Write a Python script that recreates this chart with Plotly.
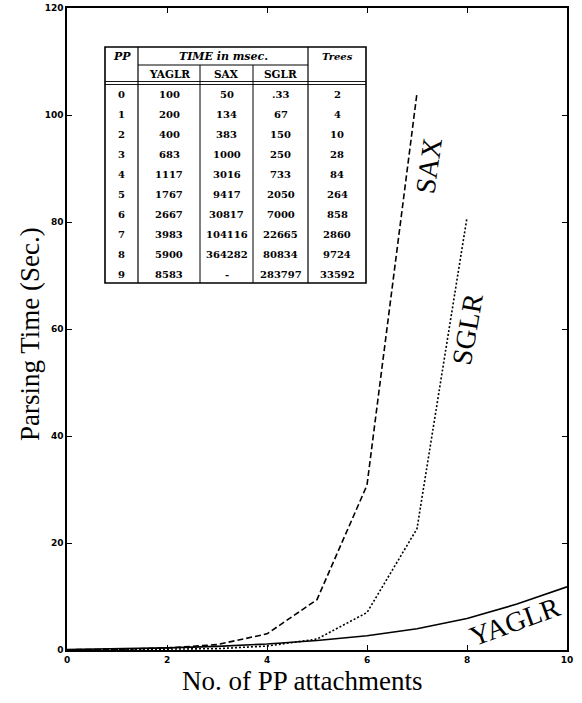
import plotly.graph_objects as go

pp = [0, 1, 2, 3, 4, 5, 6, 7, 8, 9, 10]
yaglr = [0.1, 0.2, 0.4, 0.683, 1.117, 1.767, 2.667, 3.983, 5.9, 8.583, 11.8]
sax_x = [0, 1, 2, 3, 4, 5, 6, 7]
sax = [0.05, 0.134, 0.383, 1.0, 3.016, 9.417, 30.817, 104.116]
sglr_x = [0, 1, 2, 3, 4, 5, 6, 7, 8]
sglr = [0.00033, 0.067, 0.15, 0.25, 0.733, 2.05, 7.0, 22.665, 80.834]

x_ticks = [0, 2, 4, 6, 8, 10]
y_ticks = [0, 20, 40, 60, 80, 100, 120]

# ---- table contents ----
tbl_pp = ["0", "1", "2", "3", "4", "5", "6", "7", "8", "9"]
tbl_yaglr = ["100", "200", "400", "683", "1117", "1767", "2667", "3983", "5900", "8583"]
tbl_sax = ["50", "134", "383", "1000", "3016", "9417", "30817", "104116", "364282", "-"]
tbl_sglr = [".33", "67", "150", "250", "733", "2050", "7000", "22665", "80834", "283797"]
tbl_trees = ["2", "4", "10", "28", "84", "264", "858", "2860", "9724", "33592"]

W, H = 582, 703
L, R, T, B = 67, 567, 8, 650


def px(x):
    return (x - L) / (R - L)


def py(y):
    return (B - y) / (B - T)


fig = go.Figure()
fig.add_trace(go.Scatter(x=pp, y=yaglr, mode="lines",
                         line=dict(color="black", width=1.6)))
fig.add_trace(go.Scatter(x=sax_x, y=sax, mode="lines",
                         line=dict(color="black", width=1.6, dash="6px,3px")))
fig.add_trace(go.Scatter(x=sglr_x, y=sglr, mode="lines",
                         line=dict(color="black", width=1.6, dash="2px,2px")))

serif = "Liberation Serif"
lab = dict(family=serif, size=28, color="black")
ann = []
ann.append(dict(x=7.24, y=90.5, text="SAX", textangle=-82, showarrow=False, font=lab))
ann.append(dict(x=8.0, y=60, text="SGLR", textangle=-80, showarrow=False, font=lab))
ann.append(dict(x=8.96, y=5.3, text="YAGLR", textangle=-20, showarrow=False, font=lab))

# axis titles placed as annotations for exact placement
titlefont = dict(family=serif, size=27, color="black")
ann.append(dict(xref="paper", yref="paper", x=px(302), y=py(681),
                text="No. of PP attachments", showarrow=False,
                xanchor="center", yanchor="middle", font=titlefont))
ann.append(dict(xref="paper", yref="paper", x=px(30), y=py(334),
                text="Parsing Time (Sec.)", showarrow=False, textangle=-90,
                xanchor="center", yanchor="middle", font=titlefont))

# ---- table drawn with shapes + annotations ----
cols = [105, 138, 200, 253, 308, 366]
top, mid, hdr = 47, 65, 83
rowh = 20
bottom = hdr + rowh * len(tbl_pp)
shapes = []


def line(x0, y0, x1, y1, w=1.0):
    shapes.append(dict(type="line", xref="paper", yref="paper",
                       x0=px(x0), y0=py(y0), x1=px(x1), y1=py(y1),
                       line=dict(color="black", width=w)))


shapes.append(dict(type="rect", xref="paper", yref="paper",
                   x0=px(cols[0]), y0=py(bottom), x1=px(cols[-1]), y1=py(top),
                   line=dict(color="black", width=1.6), fillcolor="white",
                   layer="above"))
line(cols[1], top, cols[1], bottom, 1.2)
line(cols[4], top, cols[4], bottom, 1.2)
line(cols[2], mid, cols[2], bottom, 1.0)
line(cols[3], mid, cols[3], bottom, 1.0)
line(cols[1], mid, cols[4], mid, 1.0)
line(cols[0], hdr - 1.5, cols[-1], hdr - 1.5, 0.9)
line(cols[0], hdr + 1.5, cols[-1], hdr + 1.5, 0.9)

tfont = dict(family="DejaVu Serif", size=10, color="black", weight="bold")


def tann(x, y, text, italic=False, size=10):
    ann.append(dict(xref="paper", yref="paper", x=px(x), y=py(y), text=text,
                    showarrow=False, xanchor="center", yanchor="middle",
                    font=dict(tfont, size=size,
                              style="italic" if italic else "normal")))


tann((cols[0] + cols[1]) / 2, (top + mid) / 2, "PP", True, 11)
tann((cols[1] + cols[4]) / 2, (top + mid) / 2, "TIME in msec.", True, 11)
tann((cols[4] + cols[5]) / 2, (top + mid) / 2, "Trees", True, 10)
for i, h in enumerate(["YAGLR", "SAX", "SGLR"]):
    tann((cols[i + 1] + cols[i + 2]) / 2, (mid + hdr) / 2, h, False, 10.5)
for r in range(len(tbl_pp)):
    yc = hdr + rowh * r + rowh / 2 + 1
    for c, colvals in enumerate([tbl_pp, tbl_yaglr, tbl_sax, tbl_sglr, tbl_trees]):
        tann((cols[c] + cols[c + 1]) / 2, yc, colvals[r])

tickfont = dict(family="DejaVu Sans", size=9, color="black", weight="bold")
fig.update_layout(
    width=W, height=H,
    margin=dict(l=L, r=W - R, t=T, b=H - B, pad=0),
    paper_bgcolor="white", plot_bgcolor="white",
    showlegend=False,
    annotations=ann,
    shapes=shapes,
    xaxis=dict(range=[0, 10], tickvals=x_ticks, ticks="inside", ticklen=5,
               tickcolor="black", showgrid=False, zeroline=False,
               showline=True, linecolor="black", linewidth=1.5, mirror="ticks",
               tickfont=tickfont, automargin=False),
    yaxis=dict(range=[0, 120], tickvals=y_ticks, ticks="inside", ticklen=5,
               tickcolor="black", showgrid=False, zeroline=False,
               showline=True, linecolor="black", linewidth=1.5, mirror="ticks",
               tickfont=tickfont, automargin=False),
)

fig.write_html("out.html", config={"displayModeBar": False},
               post_script="document.body.style.margin='0';")
